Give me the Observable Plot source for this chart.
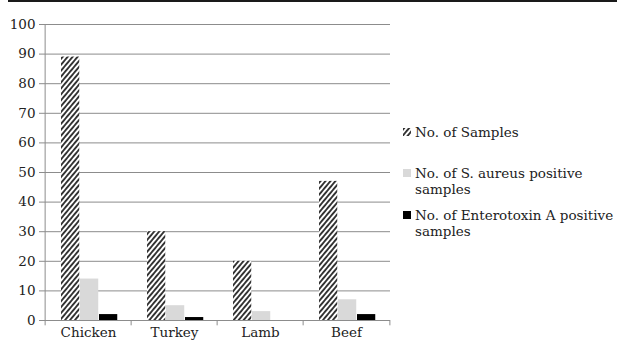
<!DOCTYPE html>
<html>
<head>
<meta charset="utf-8">
<script src="https://cdn.jsdelivr.net/npm/d3@7"></script>
<script src="https://cdn.jsdelivr.net/npm/@observablehq/plot@0.6"></script>
<style>
  html, body { margin: 0; padding: 0; background: #fff; }
  #wrap { position: relative; width: 617px; height: 341px; overflow: hidden; font-family: "DejaVu Serif", serif; color: #222; }
  #topline { position: absolute; left: 8px; top: 0; width: 609px; height: 2px; background: #1a1a1a; }
  #chart { position: absolute; left: 0; top: 0; }
  .leg { position: absolute; left: 403px; font-size: 13.5px; line-height: 16px; white-space: pre-line; }
  .leg .sw { position: absolute; left: 0; top: 4px; width: 8px; height: 8px; }
  .leg .tx { margin-left: 12px; }
</style>
</head>
<body>
<div id="wrap">
  <div id="chart"></div>
  <div id="topline"></div>
</div>
<script>
const categories = ["Chicken", "Turkey", "Lamb", "Beef"];
const seriesNames = ["No. of Samples", "No. of S. aureus positive\nsamples", "No. of Enterotoxin A positive\nsamples"];
const samples = [89, 30, 20, 47];
const aureusPositive = [14, 5, 3, 7];
const enterotoxinPositive = [2, 1, 0, 2];
const yTicks = [0, 10, 20, 30, 40, 50, 60, 70, 80, 90, 100];

const fills = ["url(#hatch)", "#d9d9d9", "#000000"];
const seriesValues = [samples, aureusPositive, enterotoxinPositive];

const width = 400, height = 341;
const mL = 43, mR = 10, mT = 24, mB = 21;
const bw = (width - mL - mR) / categories.length;
const barW = 19, offset0 = 16;

const barMarks = seriesValues.map((vals, i) =>
  Plot.barY(categories.map((c, j) => ({cat: c, v: vals[j]})), {
    x: "cat", y: "v", fill: fills[i],
    insetLeft: offset0 + barW * i,
    insetRight: bw - offset0 - barW * (i + 1)
  })
);

const plot = Plot.plot({
  width, height,
  marginLeft: mL, marginRight: mR, marginTop: mT, marginBottom: mB,
  style: { fontFamily: "DejaVu Serif, serif", fontSize: "13.5px", color: "#222", background: "transparent", overflow: "visible" },
  x: { domain: categories, padding: 0, axis: null, label: null },
  y: { domain: [0, 100], axis: null, label: null },
  marks: [
    Plot.ruleY(yTicks, { stroke: "#8c8c8c", strokeWidth: 1 }),
    ...barMarks,
    Plot.ruleX([categories[0]], { dx: -bw / 2, y1: -1.8, y2: 100, stroke: "#8c8c8c" }),
    Plot.ruleX(categories.slice(1), { dx: -bw / 2, y1: -1.8, y2: 0, stroke: "#8c8c8c" }),
    Plot.ruleX([categories[categories.length - 1]], { dx: bw / 2, y1: -1.8, y2: 0, stroke: "#8c8c8c" }),
    Plot.axisY({ ticks: yTicks, tickSize: 4, tickPadding: 4, tickFormat: d => String(d), stroke: "#8c8c8c", fill: "#222", fontSize: 13.5, label: null }),
    Plot.axisX({ tickSize: 0, tickPadding: 7, fill: "#222", fontSize: 13.5, label: null })
  ]
});

// hatch pattern definitions
const svgNS = "http://www.w3.org/2000/svg";
const defs = document.createElementNS(svgNS, "defs");
defs.innerHTML = `<pattern id="hatch" patternUnits="userSpaceOnUse" width="3.8" height="3.8" patternTransform="rotate(40)">
  <rect width="3.8" height="3.8" fill="#ffffff"></rect>
  <rect x="0" y="0" width="1.9" height="3.8" fill="#333333"></rect>
</pattern>`;
plot.insertBefore(defs, plot.firstChild);
document.getElementById("chart").appendChild(plot);

// legend
const wrap = document.getElementById("wrap");
const legTops = [124, 165, 207];
seriesNames.forEach((name, i) => {
  const item = document.createElement("div");
  item.className = "leg";
  item.style.top = legTops[i] + "px";
  const sw = document.createElementNS(svgNS, "svg");
  sw.setAttribute("class", "sw");
  sw.setAttribute("width", "8");
  sw.setAttribute("height", "8");
  const r = document.createElementNS(svgNS, "rect");
  r.setAttribute("width", "8");
  r.setAttribute("height", "8");
  r.setAttribute("fill", fills[i]);
  sw.appendChild(r);
  const tx = document.createElement("div");
  tx.className = "tx";
  tx.textContent = name;
  item.appendChild(sw);
  item.appendChild(tx);
  wrap.appendChild(item);
});
</script>
</body>
</html>
